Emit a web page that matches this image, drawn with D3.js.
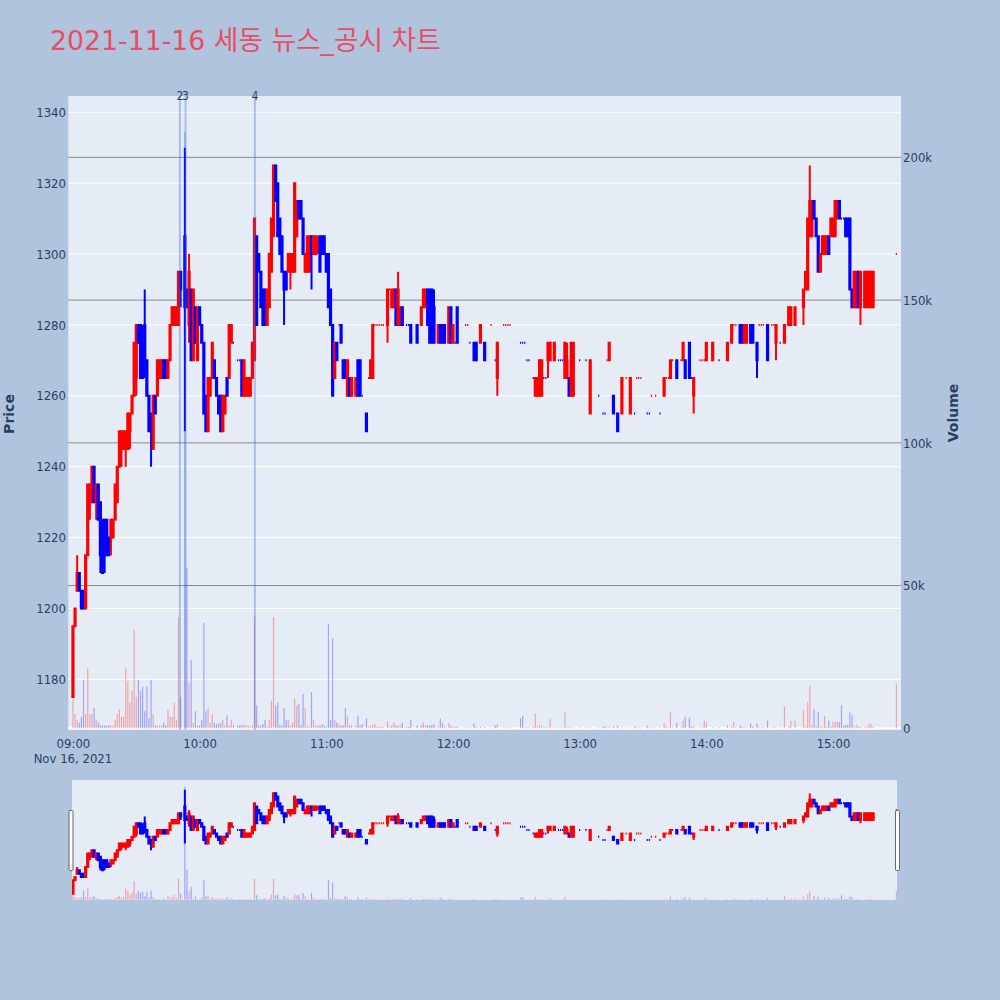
<!DOCTYPE html>
<html><head><meta charset="utf-8">
<script src="https://cdn.jsdelivr.net/npm/d3@7"></script>
<style>
body{margin:0;background:#b0c4de;}
svg{display:block;}
.tk text{font-family:"DejaVu Sans Condensed","DejaVu Sans",sans-serif;font-stretch:condensed;font-size:13px;fill:#2a3f5f;}
</style>
</head><body>
<svg id="chart" width="1000" height="1000"></svg>
<script>
// ---------------- DATA ----------------
const times = [
"09:00","09:01","09:02","09:03","09:04","09:05","09:06","09:07","09:08","09:09",
"09:10","09:11","09:12","09:13","09:14","09:15","09:16","09:17","09:18","09:19",
"09:20","09:21","09:22","09:23","09:24","09:25","09:26","09:27","09:28","09:29",
"09:30","09:31","09:32","09:33","09:34","09:35","09:36","09:37","09:38","09:39",
"09:40","09:41","09:42","09:43","09:44","09:45","09:46","09:47","09:48","09:49",
"09:50","09:51","09:53","09:54","09:55","09:56","09:57","09:58","09:59",
"10:00","10:01","10:02","10:03","10:04","10:05","10:06","10:07","10:08","10:09",
"10:10","10:11","10:12","10:13","10:14","10:15","10:16","10:18","10:19",
"10:20","10:21","10:22","10:23","10:24","10:25","10:26","10:27","10:28","10:29",
"10:30","10:31","10:32","10:33","10:34","10:35","10:36","10:37","10:38","10:39",
"10:40","10:41","10:42","10:43","10:44","10:45","10:46","10:47","10:48","10:49",
"10:50","10:51","10:52","10:53","10:54","10:55","10:56","10:57","10:58","10:59",
"11:00","11:01","11:02","11:03","11:04","11:05","11:06","11:07","11:08","11:09",
"11:10","11:11","11:12","11:14","11:15","11:16","11:17","11:19",
"11:20","11:21","11:22","11:23","11:24","11:25","11:26","11:27","11:29",
"11:30","11:31","11:32","11:33","11:34","11:35","11:36","11:38","11:39",
"11:40","11:43","11:45","11:46","11:47","11:48","11:49",
"11:50","11:51","11:53","11:54","11:55","11:56","11:58","11:59",
"12:00","12:01","12:02","12:06","12:07","12:08",
"12:10","12:11","12:13","12:15","12:18",
"12:20","12:21","12:24","12:25","12:26","12:27",
"12:32","12:33","12:34","12:35","12:36","12:38","12:39",
"12:40","12:41","12:42","12:43","12:44","12:45","12:46","12:48",
"12:50","12:51","12:52","12:53","12:54","12:55","12:56","12:57",
"13:00","13:03","13:05","13:09","13:11","13:12","13:13","13:14","13:16","13:18",
"13:20","13:22","13:24","13:26","13:27","13:28","13:29",
"13:32","13:33","13:34","13:36","13:38",
"13:40","13:41","13:42","13:43","13:44","13:46","13:48","13:49",
"13:50","13:52","13:53","13:54","13:57","13:58","13:59",
"14:00","14:03","14:06","14:10","14:12","14:13","14:14","14:16","14:17","14:18","14:19",
"14:21","14:22","14:24","14:25","14:26","14:27","14:29",
"14:31","14:32","14:33","14:35","14:37","14:39",
"14:40","14:42","14:46","14:47","14:48","14:49",
"14:50","14:51","14:52","14:53","14:54","14:55","14:56","14:57","14:58","14:59",
"15:00","15:01","15:02","15:03","15:04","15:05","15:06","15:07","15:08","15:09",
"15:10","15:11","15:12","15:13","15:15","15:16","15:17","15:18","15:19","15:30"];

const open = [
1175,1195,1205,1210,1205,1205,1200,1215,1230,1230,
1240,1230,1235,1230,1225,1225,1225,1220,1220,1220,
1225,1230,1240,1245,1245,1245,1245,1250,1255,1260,
1265,1280,1280,1275,1280,1270,1260,1255,1245,1260,
1260,1265,1265,1270,1270,1265,1270,1280,1280,1280,
1280,1295,1305,1290,1280,1290,1270,1285,1270,
1285,1280,1275,1260,1250,1260,1265,1270,1265,1260,
1260,1250,1255,1265,1265,1275,1275,1270,1270,
1270,1260,1260,1260,1260,1265,1270,1305,1300,1295,
1290,1290,1280,1285,1295,1305,1325,1320,1310,1305,
1295,1295,1295,1295,1295,1295,1305,1315,1315,1310,
1295,1295,1295,1305,1300,1300,1305,1305,1305,1305,
1300,1300,1290,1280,1265,1275,1280,1280,1270,1270,
1260,1265,1260,1260,1270,1270,1260,1255,
1265,1265,1265,1280,1280,1280,1280,1280,1280,
1290,1285,1285,1290,1280,1280,1285,1280,1280,
1280,1280,1280,1285,1285,1290,1290,
1290,1285,1275,1280,1280,1280,1275,1285,
1275,1275,1285,1280,1280,1275,
1275,1275,1275,1275,1280,
1270,1265,1280,1280,1280,1280,
1275,1275,1275,1270,1270,1265,1260,
1260,1260,1260,1265,1265,1270,1270,1270,
1270,1270,1270,1265,1265,1265,1260,1260,
1270,1270,1255,1260,1255,1255,1270,1270,1260,1255,
1255,1265,1255,1255,1265,1265,1265,
1255,1255,1260,1260,1255,
1260,1265,1265,1265,1270,1270,1270,1270,
1270,1275,1265,1260,1270,1270,1270,
1270,1270,1270,1270,1275,1280,1280,1280,1280,1275,1275,
1280,1280,1275,1280,1280,1280,1280,
1280,1280,1275,1275,1275,1280,
1280,1280,1285,1290,1290,1305,
1305,1315,1310,1305,1295,1300,1300,1300,1305,1305,
1305,1305,1310,1315,1310,1310,1310,1310,1310,1290,
1285,1285,1295,1285,1285,1285,1285,1285,1285,1300];

const high = [
1195,1200,1215,1210,1205,1205,1215,1235,1235,1240,
1240,1235,1235,1230,1225,1225,1225,1220,1225,1225,
1235,1240,1250,1250,1250,1250,1255,1255,1260,1275,
1280,1280,1280,1280,1290,1270,1260,1255,1260,1260,
1270,1270,1270,1270,1270,1270,1280,1285,1285,1285,
1295,1295,1330,1290,1300,1290,1290,1285,1285,
1285,1280,1275,1260,1265,1265,1275,1270,1265,1260,
1260,1260,1260,1265,1280,1280,1275,1270,1270,
1270,1270,1265,1265,1265,1275,1310,1305,1300,1295,
1290,1290,1290,1300,1310,1325,1325,1320,1310,1305,
1295,1295,1300,1300,1300,1320,1315,1315,1315,1310,
1300,1305,1305,1305,1305,1305,1305,1305,1305,1305,
1300,1300,1290,1280,1275,1275,1280,1280,1270,1270,
1270,1265,1265,1265,1270,1270,1260,1255,
1265,1270,1280,1280,1280,1280,1280,1280,1290,
1290,1290,1290,1290,1295,1285,1285,1280,1280,
1280,1280,1285,1290,1290,1290,1290,
1290,1290,1280,1280,1280,1280,1285,1285,
1280,1275,1285,1280,1280,1275,
1275,1275,1280,1275,1280,
1270,1275,1280,1280,1280,1280,
1275,1275,1275,1270,1270,1265,1265,
1265,1270,1270,1265,1265,1275,1275,1275,
1270,1270,1270,1275,1275,1265,1275,1275,
1270,1270,1270,1260,1255,1255,1270,1275,1260,1255,
1265,1265,1265,1255,1265,1265,1265,
1255,1255,1260,1260,1255,
1265,1265,1265,1270,1270,1270,1270,1275,
1270,1275,1265,1265,1270,1270,1270,
1275,1275,1270,1275,1280,1280,1280,1280,1280,1280,1280,
1280,1280,1275,1280,1280,1280,1280,
1280,1280,1280,1275,1280,1285,
1285,1285,1290,1295,1310,1325,
1315,1315,1310,1305,1300,1305,1305,1305,1305,1310,
1310,1315,1315,1315,1310,1310,1310,1310,1310,1290,
1295,1295,1295,1295,1295,1295,1295,1295,1295,1300];

const low = [
1175,1195,1205,1205,1200,1200,1200,1215,1225,1230,
1230,1225,1225,1210,1210,1210,1215,1215,1215,1220,
1225,1230,1240,1240,1245,1240,1245,1245,1255,1260,
1260,1275,1265,1265,1265,1260,1250,1240,1245,1255,
1260,1265,1265,1265,1265,1265,1270,1280,1280,1280,
1280,1285,1250,1285,1275,1270,1270,1275,1270,
1280,1275,1255,1250,1250,1260,1265,1265,1260,1255,
1250,1250,1255,1260,1265,1275,1275,1270,1270,
1260,1260,1260,1260,1260,1265,1270,1280,1295,1285,
1280,1280,1280,1285,1295,1305,1315,1305,1300,1295,
1280,1290,1295,1290,1295,1295,1305,1310,1310,1300,
1295,1295,1295,1290,1300,1300,1300,1295,1300,1300,
1295,1285,1280,1260,1265,1270,1280,1275,1265,1265,
1260,1260,1260,1260,1260,1260,1260,1250,
1265,1265,1265,1280,1280,1280,1280,1280,1275,
1290,1285,1285,1280,1280,1280,1280,1280,1280,
1275,1275,1280,1285,1285,1280,1275,
1275,1275,1275,1275,1275,1275,1275,1275,
1275,1275,1275,1280,1280,1275,
1270,1270,1275,1270,1280,
1270,1260,1280,1280,1280,1280,
1275,1275,1275,1270,1270,1265,1260,
1260,1260,1260,1265,1265,1265,1270,1270,
1270,1270,1270,1265,1265,1260,1260,1260,
1270,1270,1255,1260,1255,1255,1270,1270,1255,1250,
1255,1265,1255,1255,1265,1265,1265,
1255,1255,1260,1260,1255,
1260,1265,1265,1265,1270,1265,1270,1270,
1265,1265,1265,1255,1270,1270,1270,
1270,1270,1270,1270,1275,1280,1280,1275,1275,1275,1275,
1275,1275,1265,1280,1280,1280,1270,
1280,1280,1270,1275,1275,1280,
1280,1280,1280,1290,1290,1305,
1305,1310,1305,1295,1295,1300,1300,1300,1300,1305,
1305,1305,1310,1310,1310,1310,1305,1305,1290,1285,
1285,1285,1285,1280,1285,1285,1285,1285,1285,1300];

const close = [
1195,1200,1210,1205,1200,1200,1215,1235,1235,1240,
1230,1235,1225,1215,1210,1215,1215,1215,1225,1225,
1235,1240,1250,1250,1250,1250,1255,1255,1260,1275,
1280,1275,1265,1265,1270,1260,1250,1250,1260,1255,
1270,1270,1270,1265,1265,1270,1280,1285,1285,1285,
1295,1290,1285,1285,1295,1270,1290,1275,1285,
1280,1275,1255,1250,1265,1265,1275,1265,1260,1255,
1250,1260,1260,1260,1280,1280,1275,1270,1270,
1260,1270,1265,1265,1265,1275,1310,1280,1295,1285,
1280,1280,1290,1300,1310,1325,1315,1305,1300,1295,
1290,1290,1300,1300,1300,1320,1315,1310,1310,1300,
1300,1305,1305,1300,1305,1305,1305,1295,1300,1300,
1295,1285,1280,1260,1275,1270,1280,1275,1265,1265,
1270,1260,1265,1265,1260,1260,1260,1250,
1265,1270,1280,1280,1280,1280,1280,1280,1290,
1290,1290,1290,1280,1290,1285,1280,1280,1280,
1275,1275,1285,1290,1290,1280,1275,
1275,1275,1280,1275,1275,1275,1285,1275,
1280,1275,1275,1280,1280,1275,
1270,1270,1280,1270,1280,
1270,1275,1280,1280,1280,1280,
1275,1275,1275,1270,1270,1265,1265,
1265,1270,1270,1265,1265,1275,1275,1275,
1270,1270,1270,1275,1270,1260,1275,1275,
1270,1270,1270,1260,1255,1255,1270,1275,1255,1250,
1265,1265,1265,1255,1265,1265,1265,
1255,1255,1260,1260,1255,
1265,1265,1265,1270,1270,1265,1270,1275,
1265,1265,1265,1265,1270,1270,1270,
1275,1275,1270,1275,1280,1280,1280,1275,1275,1280,1280,
1275,1275,1270,1280,1280,1280,1270,
1280,1280,1280,1275,1280,1285,
1285,1285,1290,1295,1310,1315,
1315,1310,1305,1295,1300,1305,1305,1305,1300,1310,
1310,1315,1315,1310,1310,1310,1305,1305,1290,1285,
1295,1295,1285,1295,1295,1295,1295,1295,1295,1300];

const volume = [
10000,5000,3000,2000,4000,17000,5000,21000,5000,5000,
7000,3000,2000,1000,1000,1000,1000,1000,1000,1000,
3000,5000,6500,4000,4000,21000,16500,9000,13000,34500,
11000,17000,13000,14600,6000,14600,3500,17000,5000,1000,
1000,1000,1000,2000,1000,6500,4000,4000,9000,3000,
39000,11000,209000,56000,15800,24000,2000,6000,1000,
1000,3000,37000,6000,7000,2000,5000,2000,1500,1500,
2000,3000,1000,4500,1000,3000,1000,1000,1000,
1200,1200,1000,1000,500,1000,39000,8000,1000,1000,
1500,2900,600,2900,9700,39000,7900,9000,1200,1000,
7000,3000,2900,1000,2000,10400,7900,8600,1200,12000,
7000,1000,500,12700,2900,1000,1000,1000,1500,1000,
600,36500,2900,31500,2900,2000,1500,1000,1000,7000,
4500,1000,1200,1000,4500,1000,1500,3500,
500,1000,1000,1500,500,500,500,500,2300,
500,1000,2000,1000,1000,1000,2000,500,500,
2900,1000,1000,2000,1000,1000,1000,
1200,1500,500,3500,1800,600,1800,1000,
500,500,600,300,300,300,
1700,500,500,400,300,
1000,1500,300,300,300,300,
3500,4300,300,300,300,600,5200,
600,1000,1000,300,300,300,3200,300,
300,300,300,5500,300,300,300,300,
300,300,300,300,600,600,300,600,600,900,
300,300,300,600,300,300,300,
900,300,300,300,300,
1700,600,300,5800,300,1900,300,2700,
4000,3700,600,600,300,300,2700,
2100,300,300,1200,600,2300,300,1000,500,300,300,
1700,600,1700,300,300,300,2700,
300,300,300,300,7600,600,
2600,2600,6400,600,9300,14800,
1000,6800,600,5600,600,500,4300,500,2700,600,
2300,2200,2200,2200,8000,1000,1200,1200,5500,4500,
500,1200,500,500,500,500,1700,1500,600,15700];

const newsTimes = ["09:50:40","09:53:20","10:26:10"];
const newsLabels = ["2","3","4"];
const priceTicks = [1180,1200,1220,1240,1260,1280,1300,1320,1340];
const volumeTicks = [0,50000,100000,150000,200000];
const volumeTickLabels = ["0","50k","100k","150k","200k"];
const timeTicks = ["09:00","10:00","11:00","12:00","13:00","14:00","15:00"];
const titleText = "2021-11-16 세동 뉴스_공시 차트";

// ---------------- LAYOUT ----------------
const parseT = d3.timeParse("%Y-%m-%d %H:%M:%S");
const T = s => parseT("2021-11-16 " + (s.length === 5 ? s + ":00" : s));
const P = {l: 68.3, r: 901, t: 96, b: 730};
const S = {l: 72, r: 897, t: 780, b: 900};
const FONT = '"DejaVu Sans Condensed","DejaVu Sans",sans-serif';

const x = d3.scaleTime().domain([T("08:57:48"), T("15:32:12")]).range([P.l, P.r]);
const yP = d3.scaleLinear().domain([1165.7, 1344.6]).range([P.b, P.t]);
const yV = d3.scaleLinear().domain([-600, 221500]).range([P.b, P.t]);
const sP = yP.copy().range([S.b, S.t]);
const sV = yV.copy().range([S.b, S.t]);

const data = times.map((t, i) => ({t: T(t), o: open[i], h: high[i], l: low[i], c: close[i], v: volume[i]}));
let prevC = null, prevUp = true;
data.forEach(d => {
  let up;
  if (d.c > d.o) up = true;
  else if (d.c < d.o) up = false;
  else up = (prevC !== null && d.c !== prevC) ? d.c > prevC : prevUp;
  d.up = up; prevUp = up; prevC = d.c;
});
const UP = "#ff0000", DN = "#0000ff";

const svg = d3.select("#chart");
svg.append("rect").attr("width", 1000).attr("height", 1000).attr("fill", "#b0c4de");

// title
const title = svg.append("text").attr("x", 50).attr("y", 50)
  .attr("font-family", '"DejaVu Sans","Noto Sans CJK KR",sans-serif')
  .attr("font-size", 25).attr("fill", "#ea4c65").text(titleText);
const tl = title.node().getComputedTextLength();
if (tl > 0) title.attr("font-size", 25 * 391 / tl);

// plot background
svg.append("rect").attr("x", P.l).attr("y", P.t).attr("width", P.r - P.l).attr("height", P.b - P.t).attr("fill", "#e5ecf6");

// price grid (white)
svg.append("g").selectAll("line").data(priceTicks).join("line")
  .attr("x1", P.l).attr("x2", P.r).attr("y1", d => yP(d)).attr("y2", d => yP(d))
  .attr("stroke", "#ffffff").attr("stroke-width", 1);
// volume grid (gray)
svg.append("g").selectAll("line").data(volumeTicks.filter(v => v > 0)).join("line")
  .attr("x1", P.l).attr("x2", P.r).attr("y1", d => yV(d)).attr("y2", d => yV(d))
  .attr("stroke", "#8c8c8c").attr("stroke-width", 1);
svg.append("line").attr("x1", P.l).attr("x2", P.r).attr("y1", yV(0)).attr("y2", yV(0))
  .attr("stroke", "#ffffff").attr("stroke-width", 2);

function candlePath(d, xs, ys) {
  const cx = xs(d.t), hw = 0.6;
  const yo = ys(d.o), yc = ys(d.c);
  const top = Math.min(yo, yc), bot = Math.max(yo, yc);
  return `M${cx - hw},${yo}H${cx + hw}V${yc}H${cx - hw}Z` +
         `M${cx},${top}V${ys(d.h)}M${cx},${bot}V${ys(d.l)}`;
}
function drawCandles(g, xs, ys) {
  g.selectAll("path").data(data).join("path")
    .attr("d", d => candlePath(d, xs, ys))
    .attr("stroke", d => d.up ? UP : DN).attr("fill", d => d.up ? UP : DN)
    .attr("stroke-width", 2).attr("stroke-linejoin", "miter");
}
function drawVolume(g, xs, ys) {
  g.selectAll("rect").data(data).join("rect")
    .attr("x", d => xs(d.t) - 0.6).attr("width", 1.2)
    .attr("y", d => ys(d.v)).attr("height", d => ys(0) - ys(d.v))
    .attr("fill", d => d.up ? UP : DN).attr("fill-opacity", 0.3);
}

drawCandles(svg.append("g"), x, yP);
drawVolume(svg.append("g"), x, yV);

// news lines
const news = newsTimes.map((t, i) => ({t: T(t), label: newsLabels[i]}));
svg.append("g").selectAll("line").data(news).join("line")
  .attr("x1", d => x(d.t)).attr("x2", d => x(d.t)).attr("y1", P.t).attr("y2", P.b)
  .attr("stroke", "rgba(65,105,225,0.37)").attr("stroke-width", 2);
svg.append("g").selectAll("text").data(news).join("text")
  .attr("x", d => x(d.t)).attr("y", P.t + 4).attr("text-anchor", "middle")
  .attr("font-family", FONT).attr("font-size", 12).attr("fill", "#2a3f5f")
  .text(d => d.label);

// axes
const ax1 = svg.append("g").attr("class", "tk").attr("transform", `translate(${P.l},0)`)
  .call(d3.axisLeft(yP).tickValues(priceTicks).tickSize(0).tickPadding(2.3).tickFormat(d3.format("d")));
ax1.select(".domain").remove();
const ax2 = svg.append("g").attr("class", "tk").attr("transform", `translate(${P.r},0)`)
  .call(d3.axisRight(yV).tickValues(volumeTicks).tickSize(0).tickPadding(2)
    .tickFormat((d, i) => volumeTickLabels[i]));
ax2.select(".domain").remove();
const ax3 = svg.append("g").attr("class", "tk").attr("transform", `translate(0,${P.b})`)
  .call(d3.axisBottom(x).tickValues(timeTicks.map(T)).tickSize(0).tickPadding(8.8)
    .tickFormat(d3.timeFormat("%H:%M")));
ax3.select(".domain").remove();
svg.append("text").attr("x", x(T(timeTicks[0]))).attr("y", 763).attr("text-anchor", "middle")
  .attr("font-family", FONT).attr("font-stretch", "condensed").attr("font-size", 13)
  .attr("fill", "#2a3f5f").text(d3.timeFormat("%b %-d, %Y")(T(timeTicks[0])));

// axis titles
svg.append("text").attr("transform", "translate(14,414) rotate(-90)").attr("text-anchor", "middle")
  .attr("font-family", '"DejaVu Sans",sans-serif').attr("font-weight", "bold").attr("font-size", 14)
  .attr("fill", "#2a3f5f").text("Price");
svg.append("text").attr("transform", "translate(958,413) rotate(-90)").attr("text-anchor", "middle")
  .attr("font-family", '"DejaVu Sans",sans-serif').attr("font-weight", "bold").attr("font-size", 14)
  .attr("fill", "#2a3f5f").text("Volume");

// range slider
svg.append("defs").append("clipPath").attr("id", "sclip").append("rect")
  .attr("x", S.l).attr("y", S.t).attr("width", S.r - S.l).attr("height", S.b - S.t);
svg.append("rect").attr("x", S.l).attr("y", S.t).attr("width", S.r - S.l).attr("height", S.b - S.t).attr("fill", "#e5ecf6");
const sg = svg.append("g").attr("clip-path", "url(#sclip)");
drawCandles(sg.append("g"), x, sP);
drawVolume(sg.append("g"), x, sV);
[S.l - 1.5, S.r].forEach(hx => {
  svg.append("rect").attr("x", hx - 1.5).attr("y", S.t + 30.5).attr("width", 4).attr("height", 60)
    .attr("rx", 1).attr("fill", "#ffffff").attr("stroke", "#666").attr("stroke-width", 1);
});
</script>
</body></html>
